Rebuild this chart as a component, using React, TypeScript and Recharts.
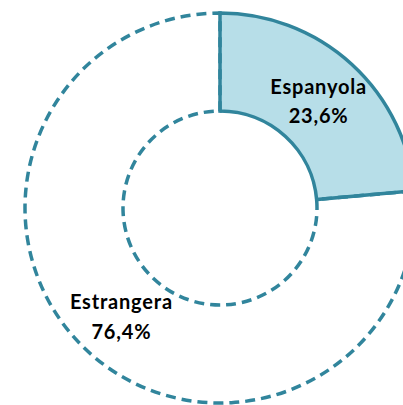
import React from 'react';
import { PieChart, Pie, Cell } from 'recharts';

const categories = ['Espanyola', 'Estrangera'];
const values = [23.6, 76.4];
const fills = ['#B7DEE8', 'none'];
const dashes = [undefined, '10 6'];

const data = categories.map((name, i) => ({ name, value: values[i] }));

const RAD = Math.PI / 180;

const renderLabel = (props: any) => {
  const { cx, cy, midAngle, innerRadius, outerRadius, index } = props;
  const r = (innerRadius + outerRadius) / 2;
  const x = cx + r * Math.cos(-midAngle * RAD);
  const y = cy + r * Math.sin(-midAngle * RAD);
  const pct = values[index].toFixed(1).replace('.', ',') + '%';
  return (
    <text
      x={x}
      y={y}
      textAnchor="middle"
      fill="#000"
      fontFamily="Lato, 'Open Sans', sans-serif"
      fontWeight="bold"
      fontSize={20}
      letterSpacing={0.8}
    >
      <tspan x={x} dy={-6.5}>{categories[index]}</tspan>
      <tspan x={x} dy={29.5}>{pct}</tspan>
    </text>
  );
};

export default function App() {
  return (
    <div style={{ position: 'absolute', left: 0, top: 0, width: 403, height: 405, background: '#fff', overflow: 'hidden' }}>
      <style>{'body{margin:0;overflow:hidden}'}</style>
      <PieChart width={403} height={405} margin={{ top: 0, right: 0, bottom: 0, left: 0 }}>
        <Pie
          data={data}
          dataKey="value"
          nameKey="name"
          cx={220}
          cy={208}
          innerRadius={97}
          outerRadius={195}
          startAngle={90}
          endAngle={-270}
          stroke="#31859C"
          strokeWidth={3.5}
          label={renderLabel}
          labelLine={false}
          isAnimationActive={false}
        >
          {data.map((d, i) => (
            <Cell key={d.name} fill={fills[i]} stroke="#31859C" strokeWidth={3.5} strokeDasharray={dashes[i]} />
          ))}
        </Pie>
      </PieChart>
    </div>
  );
}
